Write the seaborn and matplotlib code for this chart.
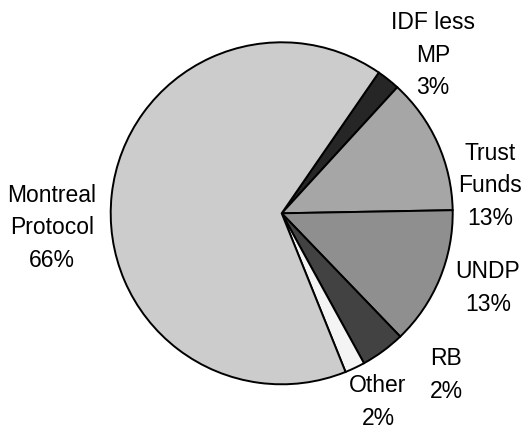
import matplotlib
matplotlib.use("Agg")
import matplotlib.pyplot as plt
import seaborn as sns

sns.set_theme(style="white")
plt.rcParams['font.family'] = ['Liberation Sans', 'DejaVu Sans']

# Data (clockwise from the Montreal/IDF boundary)
categories = ["IDF less MP", "Trust Funds", "UNDP", "RB", "Other", "Montreal Protocol"]
values = [2.2, 12.9, 13.1, 4.2, 1.9, 65.7]
label_texts = ["IDF less\nMP\n3%", "Trust\nFunds\n13%", "UNDP\n13%", "RB\n2%", "Other\n2%",
               "Montreal\nProtocol\n66%"]
colors = ["#262626", "#a6a6a6", "#8f8f8f", "#424242", "#f4f4f4", "#cccccc"]

W, H = 531, 433
fig = plt.figure(figsize=(W / 100, H / 100), dpi=100)
ax = fig.add_axes([0, 0, 1, 1])

cx, cy, r = 281.7, H - 213.3, 171
ax.pie(values, colors=colors, startangle=90 - 34.6, counterclock=False,
       center=(cx, cy), radius=r, frame=True,
       wedgeprops=dict(edgecolor="black", linewidth=1.4))
ax.set_xlim(0, W)
ax.set_ylim(0, H)
ax.set_aspect('equal')
ax.axis('off')

label_pos = [(433, 55), (490, 186), (488, 288), (446, 375), (378, 402), (52, 228)]
for txt, (x, y) in zip(label_texts, label_pos):
    ax.text(x, H - y, txt, ha="center", va="center", fontsize=16.5,
            color="black", linespacing=1.55)

fig.savefig("out.png", dpi=100)
